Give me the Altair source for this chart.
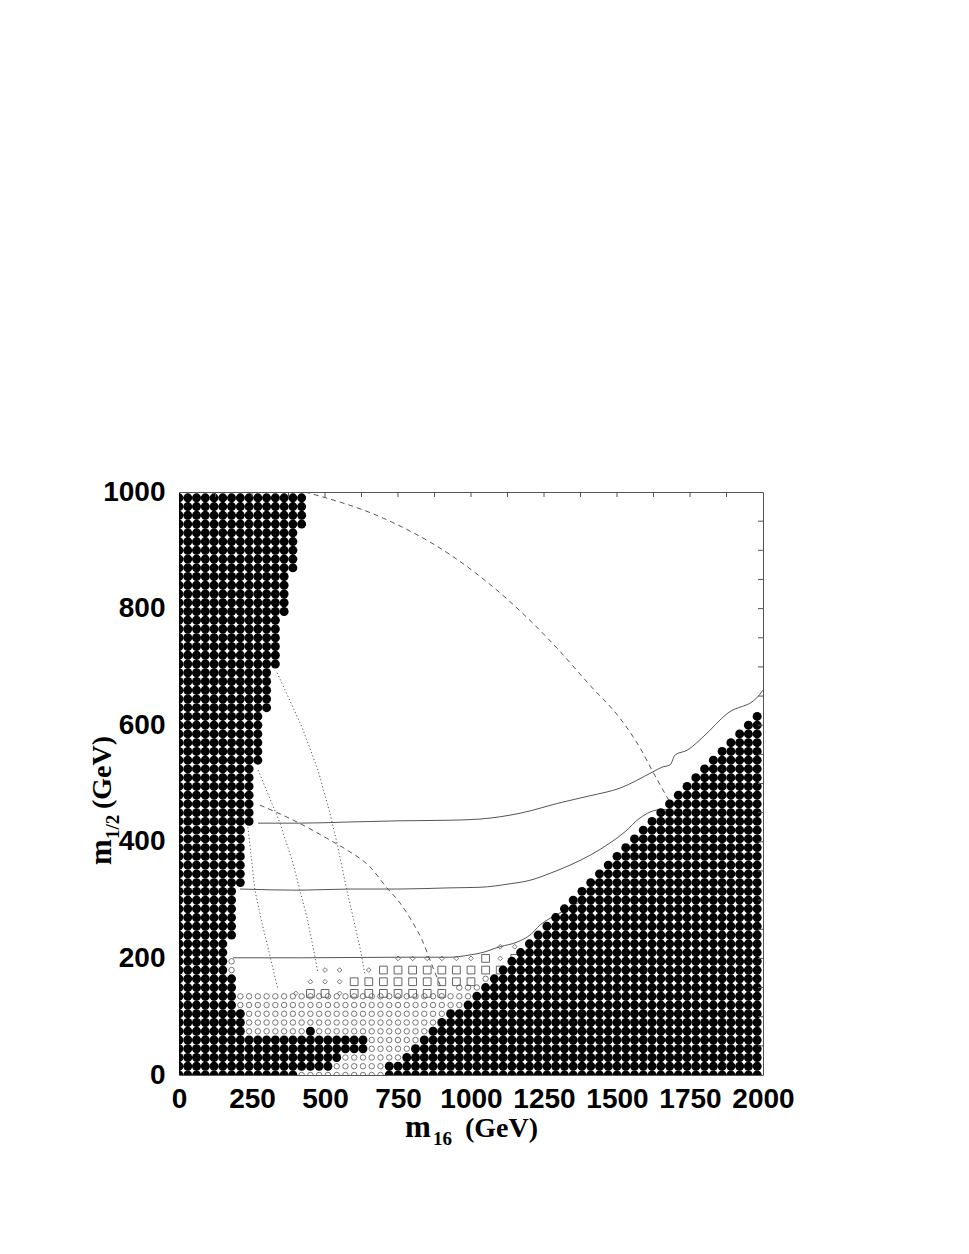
import altair as alt
import pandas as pd

# ---------------- data ----------------
X_STEP = 30   # GeV between scan columns (m16)
Y_STEP = 15   # GeV between scan rows (m1/2)
N_COLS = 67
N_ROWS = 67

# last column index (from the left) of the left excluded region, per row j
LEFT_MAX = [13, 17, 18, 21, 21,
            7, 7, 7,
            6, 6, 6, 6,
            5, 5, 5, 5,
            6, 6, 6, 6, 6, 6,
            7, 7, 7, 7, 7, 7, 7,
            8, 8, 8, 8, 8, 8, 8,
            9, 9, 9, 9, 9, 9,
            10, 10, 10, 10, 10,
            11, 11, 11, 11, 11, 11,
            12, 12, 12, 12, 12,
            13, 13, 13, 13, 13,
            14, 14, 14, 14]
# first column index of the right excluded region, per row j (99 = none)
RIGHT_MIN = [24, 24, 26, 27, 28, 29, 30, 31, 33, 34, 35, 36, 37, 38, 39, 40,
             41, 42, 43, 44, 45, 46, 47, 48, 49, 50, 51, 52, 53, 54, 55, 56,
             57, 58, 59, 60, 61, 62, 63, 64, 65, 66,
             99, 99, 99, 99, 99, 99, 99, 99, 99, 99, 99, 99, 99, 99, 99, 99,
             99, 99, 99, 99, 99, 99, 99, 99, 99]
# isolated excluded points (row j, column i)
EXTRA_BLACK = [(5, 15)]

# open-circle runs: (row j, first column, last column)
OPEN_RUNS = [(0, 14, 23), (1, 18, 23), (2, 19, 25), (3, 22, 26), (4, 22, 27),
             (5, 8, 14), (5, 16, 28), (6, 8, 29), (7, 8, 30), (8, 7, 32),
             (9, 7, 33), (10, 32, 34), (11, 35, 35), (12, 6, 6), (13, 6, 6)]

# squares and diamonds (m16, m1/2) in GeV
SQUARE_X = [450, 500, 600, 650, 700, 750, 800, 850, 900,
            600, 650, 700, 750, 800, 850, 900, 950, 1000,
            700, 750, 800, 850, 900, 950, 1000, 1050, 1100,
            1050, 1150]
SQUARE_Y = [140] * 9 + [160] * 9 + [180] * 9 + [200] * 2
DIAMOND_X = [400, 550, 450, 500, 550, 500, 550, 650,
             750, 800, 850, 900, 950, 1000, 1100,
             1100, 1150, 1200]
DIAMOND_Y = [140, 140, 160, 160, 160, 180, 180, 180,
             200, 200, 200, 200, 200, 200, 200,
             220, 220, 220]

# contour curves
SOLID_TOP_X = [271, 414, 586, 757, 928, 1031, 1168, 1305, 1408, 1510, 1623, 1654, 1682, 1699, 1740, 1795, 1880, 1979, 2000]
SOLID_TOP_Y = [432, 432, 434, 436, 437, 439, 449, 467, 479, 492, 520, 528, 532, 549, 557, 580, 621, 647, 660]
SOLID_MID_X = [209, 414, 586, 757, 928, 1031, 1134, 1202, 1271, 1339, 1408, 1476, 1527, 1579, 1647, 1682]
SOLID_MID_Y = [319, 317, 319, 319, 321, 322, 328, 334, 346, 360, 377, 398, 417, 441, 455, 455]
SOLID_BOT_X = [185, 414, 757, 928, 997, 1031, 1099, 1158, 1202, 1236, 1305, 1384]
SOLID_BOT_Y = [201, 201, 202, 202, 206, 209, 220, 228, 240, 257, 278, 300]
DASH_BIG_X = [432, 700, 930, 1120, 1280, 1410, 1510, 1579, 1623, 1682]
DASH_BIG_Y = [1000, 955, 892, 818, 740, 667, 612, 561, 520, 467]
DASH_LOW_X = [277, 404, 517, 575, 654, 712, 757, 801, 832, 866, 901]
DASH_LOW_Y = [463, 434, 403, 386, 357, 321, 295, 261, 232, 189, 146]
DOT_A_X = [336, 421, 476, 517, 541, 575, 620, 637]
DOT_A_Y = [690, 597, 523, 449, 398, 317, 218, 172]
DOT_B_X = [271, 346, 390, 414, 438, 459, 476]
DOT_B_Y = [523, 432, 364, 317, 271, 220, 175]
DOT_C_X = [236, 260, 284, 305, 339]
DOT_C_Y = [425, 317, 261, 218, 146]

X_TICKS = [0, 250, 500, 750, 1000, 1250, 1500, 1750, 2000]
Y_TICKS = [0, 200, 400, 600, 800, 1000]
RIGHT_MINOR = list(range(50, 1000, 50))
TOP_MINOR = list(range(125, 2000, 125))

# ---------------- build tables ----------------
black = []
for j in range(N_ROWS):
    for i in range(N_COLS):
        if i <= LEFT_MAX[j] or i >= RIGHT_MIN[j] or (j, i) in EXTRA_BLACK:
            black.append({"x": i * X_STEP, "y": j * Y_STEP})
black_df = pd.DataFrame(black)

opens = []
for j, a, b in OPEN_RUNS:
    for i in range(a, b + 1):
        opens.append({"x": i * X_STEP, "y": j * Y_STEP})
open_df = pd.DataFrame(opens)

sq_df = pd.DataFrame({"x": SQUARE_X, "y": SQUARE_Y})
dm_df = pd.DataFrame({"x": DIAMOND_X, "y": DIAMOND_Y})

def curve(name, xs, ys):
    return pd.DataFrame({"x": xs, "y": ys, "c": name, "o": range(len(xs))})

solid_df = pd.concat([curve("t", SOLID_TOP_X, SOLID_TOP_Y),
                      curve("m", SOLID_MID_X, SOLID_MID_Y),
                      curve("b", SOLID_BOT_X, SOLID_BOT_Y)])
dash_df = pd.concat([curve("big", DASH_BIG_X, DASH_BIG_Y),
                     curve("low", DASH_LOW_X, DASH_LOW_Y)])
dot_df = pd.concat([curve("a", DOT_A_X, DOT_A_Y),
                    curve("b", DOT_B_X, DOT_B_Y),
                    curve("c", DOT_C_X, DOT_C_Y)])

W, H = 584, 583
xs = alt.Scale(domain=[0, 2000], nice=False, zero=False)
ys = alt.Scale(domain=[0, 1000], nice=False, zero=False)
LABEL = dict(labelFont="Liberation Sans", labelFontWeight="bold",
             labelFontSize=28, labelColor="black", ticks=False, domain=False,
             grid=False, title=None, format="d", labelOverlap=False,
             labelBound=False, labelFlush=False)
X = alt.X("x:Q", scale=xs, axis=alt.Axis(values=X_TICKS, labelPadding=10, **LABEL))
Y = alt.Y("y:Q", scale=ys, axis=alt.Axis(values=Y_TICKS, labelPadding=14, **LABEL))

GRAY = "#555555"

solid = alt.Chart(solid_df).mark_line(color=GRAY, strokeWidth=1, clip=True,
                                      interpolate="monotone").encode(
    x=X, y=Y, detail="c:N", order="o:Q")
dashed = alt.Chart(dash_df).mark_line(color=GRAY, strokeWidth=1, strokeDash=[5, 4], clip=True,
                                      interpolate="monotone").encode(
    x=X, y=Y, detail="c:N", order="o:Q")
dotted = alt.Chart(dot_df).mark_line(color=GRAY, strokeWidth=1, strokeDash=[1.2, 2.4], clip=True).encode(
    x=X, y=Y, detail="c:N", order="o:Q")

blk = alt.Chart(black_df).mark_point(shape="circle", filled=True, color="black",
                                     size=80, opacity=1, clip=True).encode(x=X, y=Y)
opn = alt.Chart(open_df).mark_point(shape="circle", filled=False, color=GRAY,
                                    size=30, strokeWidth=0.8, opacity=1, clip=True).encode(x=X, y=Y)
sq = alt.Chart(sq_df).mark_point(shape="square", filled=False, color=GRAY,
                                 size=60, strokeWidth=0.9, opacity=1, clip=True).encode(x=X, y=Y)
dm = alt.Chart(dm_df).mark_point(shape="diamond", filled=False, color=GRAY,
                                 size=22, strokeWidth=0.8, opacity=1, clip=True).encode(x=X, y=Y)

# inward ticks on the top and right frame edges
rt_df = pd.DataFrame({"y": RIGHT_MINOR})
right_ticks = alt.Chart(rt_df).mark_rule(color=GRAY, strokeWidth=1).encode(
    y=Y, x=alt.value(W - 5), x2=alt.value(W))
tp_df = pd.DataFrame({"x": TOP_MINOR})
top_ticks = alt.Chart(tp_df).mark_rule(color=GRAY, strokeWidth=1).encode(
    x=X, y=alt.value(0), y2=alt.value(5))

# axis titles with subscripts
TF = "Liberation Serif"
def txt(s, size, px, py, angle=0):
    kw = dict(font=TF, fontWeight="bold", fontSize=size, align="left",
              baseline="alphabetic", color="black")
    if angle:
        kw["angle"] = angle
    return alt.Chart(pd.DataFrame({"t": [s]})).mark_text(**kw).encode(
        text="t:N", x=alt.value(px), y=alt.value(py))

titles = [txt("m", 31, 226, 645), txt("16", 19, 254, 653), txt("(GeV)", 28, 286, 645),
          txt("m", 31, -68, 373, 270), txt("1/2", 19, -60, 347, 270),
          txt("(GeV)", 28, -68, 317, 270)]

chart = alt.layer(solid, dashed, dotted, opn, sq, dm, blk, right_ticks, top_ticks,
                  *titles).properties(
    width=W, height=H,
    padding={"left": 171, "top": 484, "right": 70, "bottom": 120},
    autosize="none",
).configure_view(stroke=GRAY, strokeWidth=1)

chart.save("out.html", embed_options={"renderer": "svg", "actions": False})
